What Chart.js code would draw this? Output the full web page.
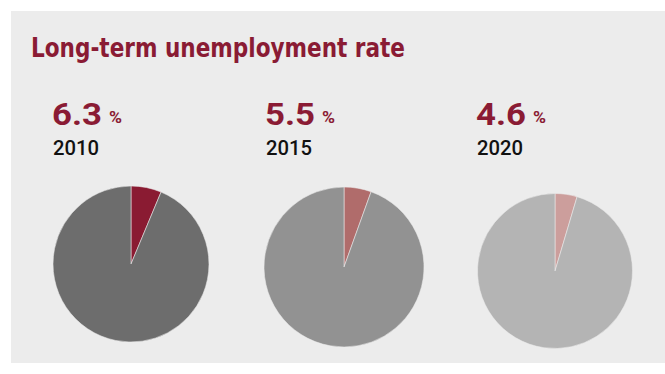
<!DOCTYPE html>
<html>
<head>
<meta charset="utf-8">
<script src="https://cdn.jsdelivr.net/npm/chart.js@4/dist/chart.umd.min.js"></script>
<style>
  html, body { margin: 0; padding: 0; background: #ffffff; }
  body { width: 665px; height: 374px; position: relative; overflow: hidden; }
  #panel { position: absolute; left: 11px; top: 11px; width: 654px; height: 352px; background: #ececec; }
  .txt { position: absolute; white-space: nowrap; transform-origin: 0 0; line-height: 1; }
  #title { font-family: "DejaVu Sans Condensed", "DejaVu Sans", sans-serif; font-weight: bold; color: #8a1b34; font-size: 27.4px; }
  .rate { font-family: Roboto, sans-serif; font-weight: bold; color: #8a1b34; font-size: 32px; }
  .pct { font-family: Roboto, sans-serif; font-weight: bold; color: #8a1b34; font-size: 16px; }
  .year { font-family: Roboto, sans-serif; font-weight: 500; color: #111111; font-size: 19.7px; }
  .pie { position: absolute; width: 200px; height: 200px; }
</style>
</head>
<body>
<div id="panel"></div>
<div id="title" class="txt"></div>
<div id="pies"></div>
<script>
// Chart data
const titleText = 'Long-term unemployment rate';
const years = ['2010', '2015', '2020'];
const rates = [6.3, 5.5, 4.6];
const unit = '%';

// Per-pie styling: slice colour, remainder colour, centre and radius
const sliceColors = ['#8a1b32', '#b06c6b', '#cc9e9c'];
const restColors = ['#6d6d6d', '#929292', '#b4b4b4'];
const pieCenters = [[130.5, 264], [343.5, 267], [555, 271]];
const pieRadii = [78, 80, 77.5];
const columnX = [53, 266, 477];

// Distance from the top of a line-height:1 box to the cap line, in em
const CAP_OFFSET = { dejavu: 0.117, roboto: 0.13 };

// Place a text block so its ink spans a target width, with its cap line at `top`
function placeText(el, x, top, targetWidth, capOffset) {
  el.style.left = x + 'px';
  document.body.appendChild(el);
  const w = el.getBoundingClientRect().width;
  const fs = parseFloat(getComputedStyle(el).fontSize);
  const sx = targetWidth ? targetWidth / w : 1;
  el.style.transform = 'scaleX(' + sx + ')';
  el.style.top = (top - fs * capOffset) + 'px';
}

const title = document.getElementById('title');
title.textContent = titleText;
placeText(title, 31, 37.5, 374, CAP_OFFSET.dejavu);

years.forEach((yr, i) => {
  const r = document.createElement('div');
  r.className = 'txt rate';
  r.textContent = rates[i].toFixed(1);
  placeText(r, columnX[i] - 1, 102, 50, CAP_OFFSET.roboto);

  const p = document.createElement('div');
  p.className = 'txt pct';
  p.textContent = unit;
  placeText(p, columnX[i] + 55.5, 112.5, 13, CAP_OFFSET.roboto);

  const y = document.createElement('div');
  y.className = 'txt year';
  y.textContent = yr;
  placeText(y, columnX[i] - 0.5, 142, 46, CAP_OFFSET.roboto);
});

// One pie chart per year: the rate against the rest of the whole
const piesHost = document.getElementById('pies');
rates.forEach((v, i) => {
  const box = document.createElement('div');
  box.className = 'pie';
  box.style.left = (pieCenters[i][0] - 100) + 'px';
  box.style.top = (pieCenters[i][1] - 100) + 'px';
  const cv = document.createElement('canvas');
  box.appendChild(cv);
  piesHost.appendChild(box);
  new Chart(cv, {
    type: 'pie',
    data: {
      labels: ['Long-term unemployed', 'Other'],
      datasets: [{
        data: [v, 100 - v],
        backgroundColor: [sliceColors[i], restColors[i]],
        borderColor: 'rgba(236,236,236,0.7)',
        borderWidth: 0.8,
        radius: pieRadii[i]
      }]
    },
    options: {
      responsive: true,
      maintainAspectRatio: false,
      animation: false,
      layout: { padding: 0 },
      plugins: { legend: { display: false }, tooltip: { enabled: false } }
    }
  });
});
</script>
</body>
</html>
